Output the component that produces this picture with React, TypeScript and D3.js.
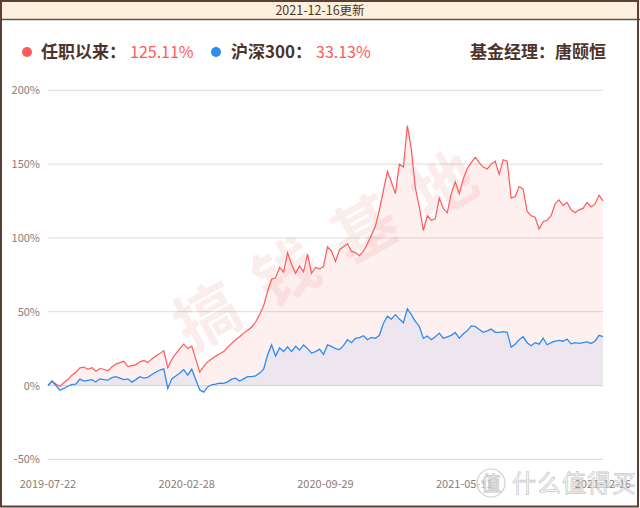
import React from "react";
import * as d3 from "d3";

const redValues = [
  0, 3, 1, -0.5, 2, 4, 7, 9, 12, 12.5, 11, 12, 9.7, 11.5, 11, 10, 12.6, 14.5, 15.5, 16.4,
  12.8, 13.5, 14, 16, 17, 15.5, 18, 20, 21.6, 23.5, 12, 17.6, 21.5, 25, 28, 25, 26.6, 18, 9, 13,
  16, 18, 19.9, 21.5, 23, 26, 28.5, 31, 33, 35.5, 37.5, 39.5, 43, 48, 54, 64, 72, 73, 80, 77,
  90, 82, 76, 81, 77, 89, 76, 80, 79, 80.6, 94, 91, 84, 92, 94, 96, 91, 90, 88, 91,
  96, 102, 108, 119, 132, 145, 138, 130, 150, 148, 176, 160, 134, 121, 105, 115, 112, 113, 127, 120,
  117, 130, 138, 130, 140, 147, 151, 154.7, 151, 148, 146.7, 150, 152, 143, 153, 152, 127, 128, 134.8, 133,
  118, 115, 114, 106, 111, 112, 115, 123, 125.8, 122, 124, 119, 117, 119, 120, 124, 121, 123, 129, 125.11,
];

const blueValues = [
  0, 3, 0, -3.2, -2, -0.5, 0.7, 1, 4.3, 3, 3.5, 4, 2.4, 4.5, 4, 3.6, 5.3, 6, 5, 4,
  4.5, 2.3, 4, 6, 5, 5.5, 7.5, 9, 10.5, 11.3, -2, 4.5, 6.5, 8.5, 10.7, 7, 11, 4, -3, -4.5,
  -1, 0.5, 1, 1.6, 1.5, 2.5, 4.3, 5, 3, 4.5, 6, 6, 6.5, 8.4, 11, 20.8, 27.5, 20, 25.5, 23,
  26.2, 23, 26.6, 24, 27.5, 25, 22, 23, 24.6, 21, 27.5, 26.5, 25, 24.3, 27, 31, 29, 32, 32.5, 33.7,
  31, 32.5, 32, 34, 42, 47, 45, 48, 45, 42.5, 52, 48, 43.4, 40, 32, 33.5, 31, 33, 35.5, 32,
  33, 34, 35.9, 32, 35, 37, 40.4, 40, 38, 36, 37, 38.2, 36, 36, 36.5, 36, 26, 28, 31, 33,
  29, 27, 29, 28, 32, 27.6, 29, 30, 30.5, 30, 31.4, 28.2, 29, 28.5, 29.1, 29.5, 28.5, 30, 34, 33.13,
];

const xLabels = ["2019-07-22", "2020-02-28", "2020-09-29", "2021-05-11", "2021-12-16"];
const yTicks = [-50, 0, 50, 100, 150, 200];

const headerText = "2021-12-16更新";
const legendRed = { name: "任职以来：", value: "125.11%" };
const legendBlue = { name: "沪深300：", value: "33.13%" };
const managerText = "基金经理：唐颐恒";
const watermarkChars = ["搞", "钱", "基", "地"];

const W = 640;
const H = 508;
const FONT = '"Noto Sans CJK SC", "Noto Sans", sans-serif';
const BROWN = "#4d342b";
const AXIS = "#8c7c76";
const RED = "#ff5a5a";
const BLUE = "#2d8cf0";

export default function App() {
  const N = redValues.length;
  const x = d3.scaleLinear().domain([0, N - 1]).range([48, 603]);
  const y = d3.scaleLinear().domain([-50, 200]).range([459.3, 90.3]);

  const line = d3
    .line<number>()
    .x((_, i) => x(i))
    .y((d) => y(d));
  const area = d3
    .area<number>()
    .x((_, i) => x(i))
    .y0(y(0))
    .y1((d) => y(d));

  const labelIdx = xLabels.map((_, i) => (i * (N - 1)) / (xLabels.length - 1));

  return (
    <div style={{ position: "fixed", left: 0, top: 0, width: W, height: H, background: "#fff" }}>
      <svg width={W} height={H} style={{ display: "block", fontFamily: FONT }}>
        <rect x={0} y={0} width={W} height={H} fill="#fff" />
        {/* header */}
        <rect x={0} y={0} width={W} height={20} fill="#fdf0dc" />
        <line x1={0} x2={W} y1={19.5} y2={19.5} stroke="#6b4f45" strokeWidth={1.5} />
        <text x={320} y={14.5} textAnchor="middle" fontSize={12.5} fill={BROWN}>
          {headerText}
        </text>

        {/* legend */}
        <circle cx={27} cy={52} r={5} fill={RED} />
        <text x={41} y={58} fontSize={17} fontWeight="bold" fill={BROWN}>
          {legendRed.name}
        </text>
        <text x={130} y={58} fontSize={16} fill={RED}>
          {legendRed.value}
        </text>
        <circle cx={216} cy={52} r={5} fill={BLUE} />
        <text x={231} y={58} fontSize={17} fontWeight="bold" fill={BROWN}>
          {legendBlue.name}
        </text>
        <text x={316} y={58} fontSize={16} fill={RED}>
          {legendBlue.value}
        </text>
        <text x={606} y={58} textAnchor="end" fontSize={17} fontWeight="bold" fill={BROWN}>
          {managerText}
        </text>

        {/* grid + y axis */}
        {yTicks.map((t) => (
          <g key={t}>
            <line x1={48} x2={603} y1={y(t)} y2={y(t)} stroke="#dcdcdc" strokeWidth={1} />
            <text x={40} y={y(t) + 4} textAnchor="end" fontSize={11} fill={AXIS}>
              {t}%
            </text>
          </g>
        ))}

        {/* watermark */}
        <g transform="translate(326,252) rotate(-29)">
          {watermarkChars.map((c, i) => (
            <text
              key={c}
              x={(i - 1.5) * 90}
              y={22}
              textAnchor="middle"
              fontSize={64}
              fontWeight="bold"
              fill="rgba(225,110,100,0.12)"
            >
              {c}
            </text>
          ))}
        </g>

        {/* areas */}
        <path d={area(redValues) || ""} fill="rgba(255,90,90,0.09)" />
        <path d={area(blueValues) || ""} fill="rgba(40,110,230,0.08)" />
        {/* lines */}
        <path d={line(redValues) || ""} fill="none" stroke={RED} strokeWidth={1.2} />
        <path d={line(blueValues) || ""} fill="none" stroke={BLUE} strokeWidth={1.3} />

        {/* x labels */}
        {xLabels.map((l, i) => (
          <text key={l} x={x(labelIdx[i])} y={488} textAnchor="middle" fontSize={11} fill={AXIS}>
            {l}
          </text>
        ))}

        {/* site watermark */}
        <g opacity={0.85}>
          <circle cx={491} cy={483} r={14} fill="rgba(255,255,255,0.6)" stroke="#c8c8c8" strokeWidth={1.2} />
          <text x={491} y={491} textAnchor="middle" fontSize={20} fill="rgba(255,255,255,0.7)" stroke="#bdbdbd" strokeWidth={0.8}>
            值
          </text>
          <text x={512} y={492} fontSize={24} fill="rgba(255,255,255,0.6)" stroke="#c4c4c4" strokeWidth={0.8} letterSpacing={1}>
            什么值得买
          </text>
        </g>

        {/* frame */}
        <rect x={1} y={1} width={W - 3} height={H - 2.5} fill="none" stroke="#5b3f36" strokeWidth={2} />
      </svg>
    </div>
  );
}
